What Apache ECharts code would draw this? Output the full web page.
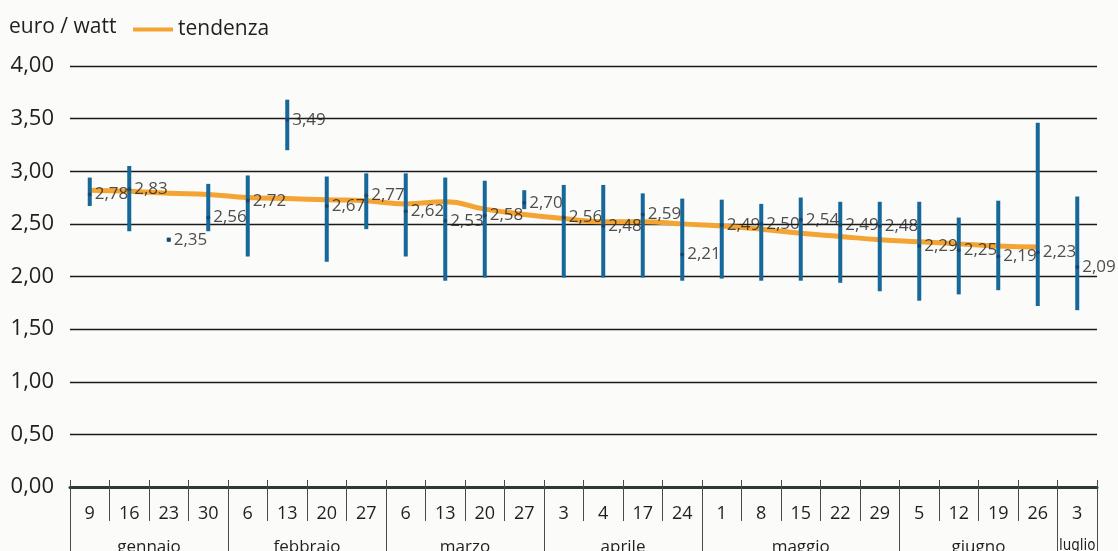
<!DOCTYPE html>
<html>
<head>
<meta charset="utf-8">
<script src="https://cdn.jsdelivr.net/npm/echarts@6/dist/echarts.min.js"></script>
<style>
  html, body { margin: 0; padding: 0; background: #fbfbf9; }
  #chart { width: 1118px; height: 551px; }
</style>
</head>
<body>
<div id="chart"></div>
<script>
// settimane (giorno del mese) e mesi
const weeks = ['9', '16', '23', '30', '6', '13', '20', '27', '6', '13', '20', '27',
  '3', '4', '17', '24', '1', '8', '15', '22', '29', '5', '12', '19', '26', '3'];
const months = ['gennaio', 'febbraio', 'marzo', 'aprile', 'maggio', 'giugno', 'luglio'];
const monthWeeks = [4, 4, 4, 4, 5, 4, 1];

// prezzo medio euro / watt, con minimo e massimo della settimana
const prices = [2.78, 2.83, 2.35, 2.56, 2.72, 3.49, 2.67, 2.77, 2.62, 2.53, 2.58, 2.70,
  2.56, 2.48, 2.59, 2.21, 2.49, 2.50, 2.54, 2.49, 2.48, 2.29, 2.25, 2.19, 2.23, 2.09];
const highs = [2.94, 3.05, 2.37, 2.88, 2.96, 3.68, 2.95, 2.98, 2.98, 2.94, 2.91, 2.82,
  2.87, 2.87, 2.79, 2.74, 2.73, 2.69, 2.75, 2.71, 2.71, 2.71, 2.56, 2.72, 3.46, 2.76];
const lows = [2.67, 2.43, 2.33, 2.43, 2.19, 3.20, 2.14, 2.45, 2.19, 1.96, 1.99, 2.64,
  1.99, 1.99, 1.99, 1.96, 1.98, 1.96, 1.96, 1.94, 1.86, 1.77, 1.83, 1.87, 1.72, 1.68];
// tendenza
const trend = [2.82, 2.81, 2.79, 2.78, 2.75, 2.74, 2.73, 2.72, 2.69, 2.71, 2.64, 2.59,
  2.55, 2.52, 2.52, 2.50, 2.48, 2.45, 2.41, 2.38, 2.35, 2.33, 2.31, 2.29, 2.28];

const FONT = "'Open Sans', sans-serif";
const NARROW = "'Liberation Sans Narrow', 'DejaVu Sans Condensed', 'Open Sans', sans-serif";
const BLUE = '#16679a';
const TEXT = '#1f1f1f';
const TICK = '#4a4a4a';

// asse dei mesi: mezze settimane, confini e centri
const monthCats = new Array(weeks.length * 2 + 1).fill('');
const monthBounds = [0];
let pos = 0;
months.forEach((m, i) => {
  monthCats[pos + monthWeeks[i]] = m;
  pos += monthWeeks[i] * 2;
  monthBounds.push(pos);
});

const fmt = v => v.toFixed(2).replace('.', ',');

const chart = echarts.init(document.getElementById('chart'));
chart.setOption({
  animation: false,
  backgroundColor: '#fbfbf9',
  title: {
    text: 'euro / watt',
    left: 4,
    top: 12,
    textStyle: { fontFamily: FONT, fontSize: 21, fontWeight: 'normal', color: TEXT }
  },
  legend: {
    left: 128,
    top: 14,
    data: [{ name: 'tendenza', icon: 'rect' }],
    itemWidth: 40,
    itemHeight: 4,
    textStyle: { fontFamily: FONT, fontSize: 21, color: TEXT }
  },
  grid: { left: 70, right: 21, top: 66, bottom: 64, containLabel: false, outerBoundsMode: 'none' },
  xAxis: [
    {
      type: 'category',
      data: weeks,
      boundaryGap: true,
      axisLine: { show: true, lineStyle: { color: '#2c3a30', width: 3 } },
      axisTick: { show: true, interval: 0, length: 34, lineStyle: { color: TICK, width: 1 } },
      axisLabel: { fontFamily: FONT, fontSize: 18, color: TEXT, margin: 18, interval: 0 }
    },
    {
      type: 'category',
      data: weeks,
      boundaryGap: true,
      position: 'bottom',
      axisLine: { show: false },
      axisTick: { show: true, interval: 0, inside: true, length: 7, lineStyle: { color: TICK, width: 1 } },
      axisLabel: { show: false }
    },
    {
      type: 'category',
      data: monthCats,
      boundaryGap: false,
      position: 'bottom',
      axisLine: { show: false },
      axisTick: {
        show: true,
        length: 70,
        interval: idx => monthBounds.indexOf(idx) >= 0,
        lineStyle: { color: TICK, width: 1 }
      },
      axisLabel: {
        fontFamily: FONT, fontSize: 17, color: TEXT, margin: 52,
        interval: (idx, val) => val !== '',
        formatter: val => (val === 'luglio' ? '{s|' + val + '}' : val),
        rich: { s: { fontFamily: NARROW, fontSize: 15, color: TEXT } }
      }
    }
  ],
  yAxis: {
    type: 'value',
    min: 0,
    max: 4,
    interval: 0.5,
    axisLine: { show: false },
    axisTick: { show: false },
    axisLabel: { fontFamily: FONT, fontSize: 22, color: TEXT, margin: 16, formatter: fmt },
    splitLine: { show: true, lineStyle: { color: '#1a1a1a', width: 1.4 } }
  },
  series: [
    {
      name: 'tendenza',
      type: 'line',
      data: trend,
      smooth: true,
      showSymbol: false,
      z: 1,
      itemStyle: { color: '#f4a433' },
      lineStyle: { color: '#f4a433', width: 5 }
    },
    {
      name: 'intervallo',
      type: 'custom',
      z: 2,
      data: weeks.map((w, i) => [i, lows[i], highs[i]]),
      renderItem: (params, api) => {
        const lo = api.coord([api.value(0), api.value(1)]);
        const hi = api.coord([api.value(0), api.value(2)]);
        return {
          type: 'rect',
          shape: { x: lo[0] - 2, y: hi[1], width: 4, height: lo[1] - hi[1] },
          style: { fill: BLUE }
        };
      }
    },
    {
      name: 'prezzo',
      type: 'scatter',
      z: 3,
      data: prices,
      symbol: 'circle',
      symbolSize: 4,
      itemStyle: { color: '#1b3f5c' },
      label: {
        show: true,
        position: 'right',
        distance: 3,
        fontFamily: FONT,
        fontSize: 17,
        color: '#222',
        formatter: p => fmt(p.value)
      }
    }
  ]
});
</script>
</body>
</html>
